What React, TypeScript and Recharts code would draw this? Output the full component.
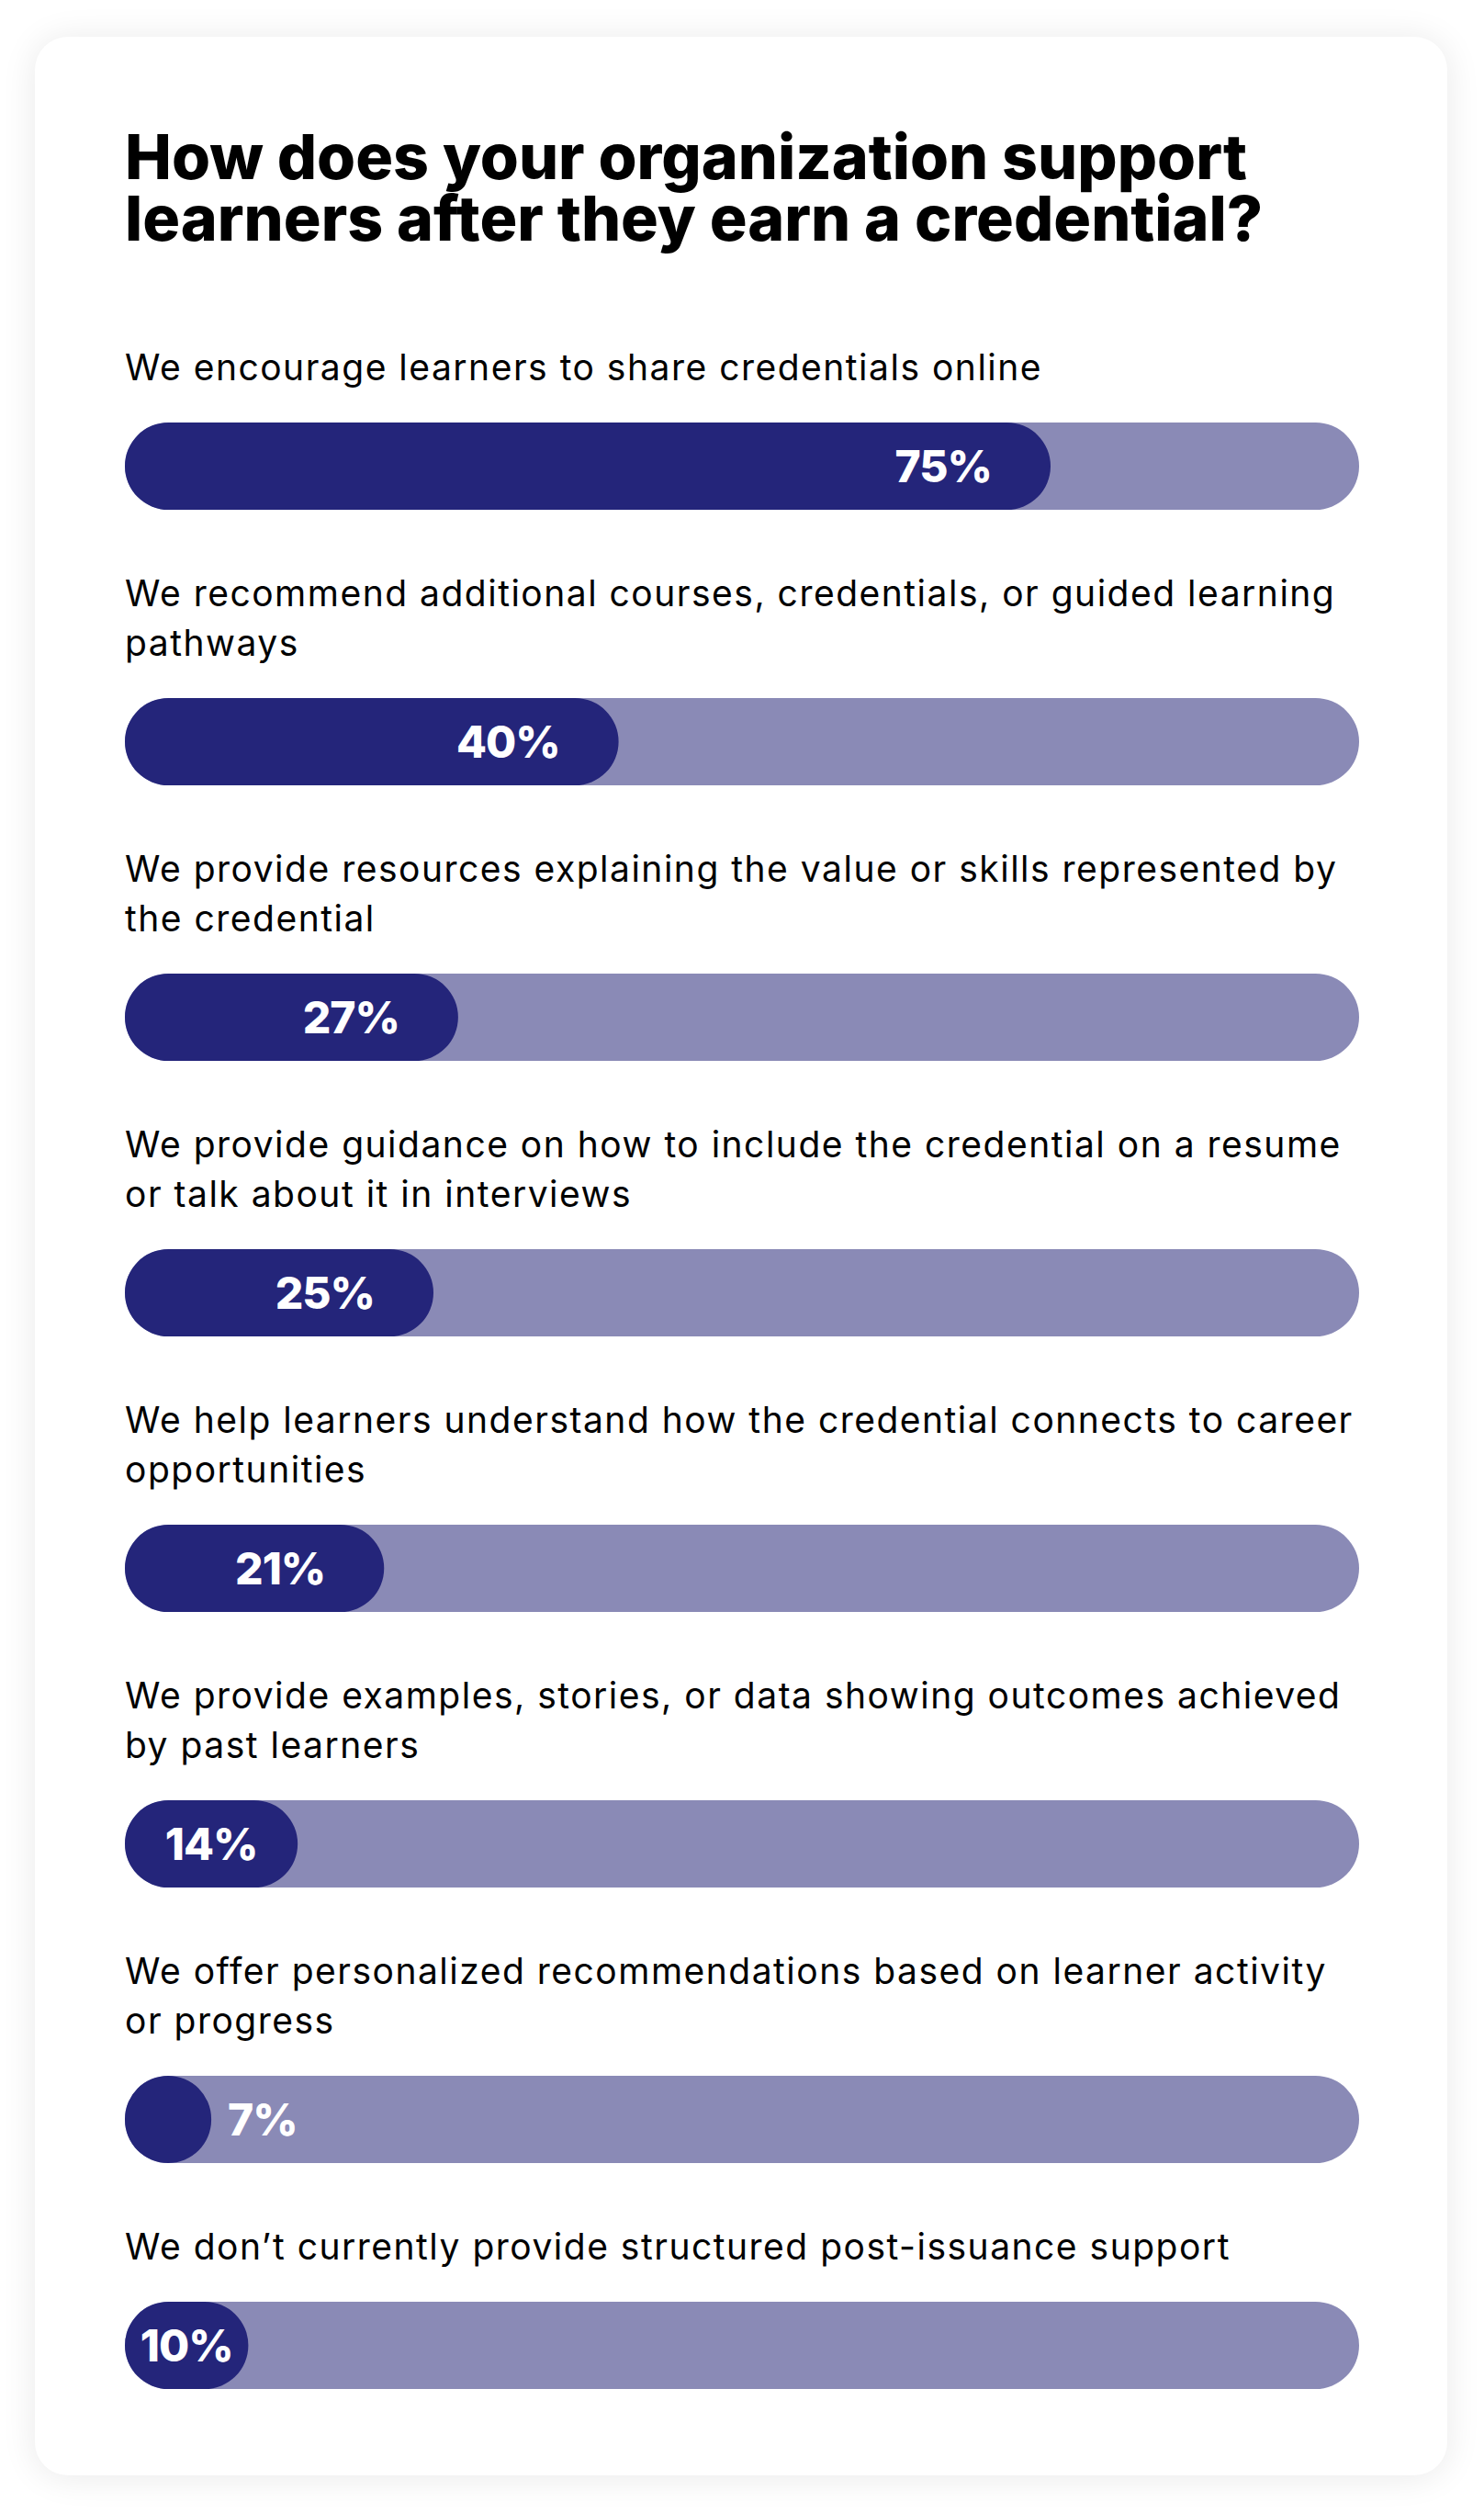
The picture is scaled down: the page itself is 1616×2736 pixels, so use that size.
import React from 'react'
import { BarChart, Bar, XAxis, YAxis, LabelList } from 'recharts'

const title = ['How does your organization support', 'learners after they earn a credential?']

// each category is split into the lines used in the reference
const categories: string[][] = [
  ['We encourage learners to share credentials online'],
  ['We recommend additional courses, credentials, or guided learning', 'pathways'],
  ['We provide resources explaining the value or skills represented by', 'the credential'],
  ['We provide guidance on how to include the credential on a resume', 'or talk about it in interviews'],
  ['We help learners understand how the credential connects to career', 'opportunities'],
  ['We provide examples, stories, or data showing outcomes achieved', 'by past learners'],
  ['We offer personalized recommendations based on learner activity', 'or progress'],
  ['We don’t currently provide structured post-issuance support'],
]

const values = [75, 40, 27, 25, 21, 14, 7, 10]

const DARK = '#24257a'
const TRACK = '#8a8ab6'
const BAR_W = 1344
const BAR_H = 95
const FONT = 'Inter, "Open Sans", sans-serif'

const renderValue = (props: any) => {
  const { x, y, width, height, value } = props
  const cy = y + height / 2 + 17
  let tx = x + width - 64
  let anchor: 'end' | 'middle' | 'start' = 'end'
  if (value < 10) {
    tx = x + width + 18
    anchor = 'start'
  } else if (value < 20) {
    tx = x + width / 2
    anchor = 'middle'
  }
  return (
    <text x={tx} y={cy} textAnchor={anchor} fill="#fff" fontSize={48} fontWeight={800}
      fontFamily={FONT} letterSpacing={-1}>
      {value}%
    </text>
  )
}

function Row({ lines, value, last }: { lines: string[]; value: number; last: boolean }) {
  const data = [{ name: lines.join(' '), value }]
  return (
    <div style={{ marginBottom: last ? 0 : 64 }}>
      <div style={{ fontSize: 39, lineHeight: '54px', color: '#000', marginBottom: 33, letterSpacing: 1.5 }}>
        {lines.map((l, i) => (
          <div key={i} style={{ whiteSpace: 'nowrap' }}>{l}</div>
        ))}
      </div>
      <BarChart width={BAR_W} height={BAR_H} layout="vertical" data={data}
        margin={{ top: 0, right: 0, bottom: 0, left: 0 }} barCategoryGap={0} barGap={0}>
        <XAxis type="number" domain={[0, 100]} hide />
        <YAxis type="category" dataKey="name" hide />
        <Bar dataKey="value" fill={DARK} radius={BAR_H / 2}
          background={{ fill: TRACK, radius: BAR_H / 2 }} isAnimationActive={false}>
          <LabelList dataKey="value" content={renderValue} />
        </Bar>
      </BarChart>
    </div>
  )
}

export default function App() {
  return (
    <div style={{ width: 1616, height: 2736, background: '#fff', position: 'relative', fontFamily: FONT }}>
      <style>{'body{margin:0}'}</style>
      <div style={{
        position: 'absolute', left: 38, top: 40, width: 1538, height: 2655,
        background: '#fff', borderRadius: 36, boxShadow: '0 2px 38px rgba(0,0,0,0.09)',
        boxSizing: 'border-box', paddingLeft: 98, paddingTop: 97,
      }}>
        <div style={{ fontSize: 68, lineHeight: '67px', fontWeight: 800, color: '#000', marginBottom: 102, letterSpacing: 0 }}>
          {title.map((t, i) => <div key={i} style={{ whiteSpace: 'nowrap' }}>{t}</div>)}
        </div>
        {categories.map((lines, i) => (
          <Row key={i} lines={lines} value={values[i]} last={i === categories.length - 1} />
        ))}
      </div>
    </div>
  )
}
